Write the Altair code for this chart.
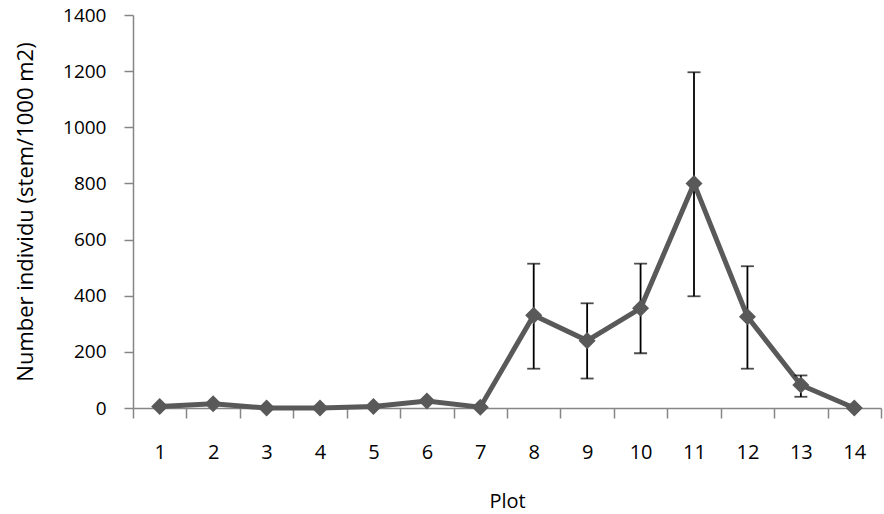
import altair as alt
import pandas as pd

plots = list(range(1, 15))
means = [5, 15, 0, 0, 5, 25, 3, 330, 240, 355, 800, 325, 82, 0]
err_low = [None, None, None, None, None, None, None, 140, 105, 195, 398, 140, 40, None]
err_high = [None, None, None, None, None, None, None, 514, 373, 514, 1196, 505, 116, None]

df = pd.DataFrame({"plot": plots, "mean": means, "lo": err_low, "hi": err_high})
eb = df.dropna()

W, H = 748, 393
band = W / len(plots)

x = alt.X(
    "plot:Q",
    scale=alt.Scale(domain=[0.5, len(plots) + 0.5], nice=False, zero=False),
    axis=alt.Axis(
        title="Plot",
        values=[i + 0.5 for i in range(0, len(plots) + 1)],
        labelExpr=f"datum.value < {len(plots)} ? toString(datum.value + 0.5) : ''",
        labelOffset=band / 2,
        labelOverlap=False,
        labelBound=False,
        labelFlush=False,
        labelBaseline="alphabetic",
        labelFontSize=20,
        grid=False,
        tickSize=10,
        labelPadding=40,
        titleFontSize=20,
        titleBaseline="alphabetic",
        titleX=W / 2,
        titleY=99,
        titleAlign="center",
    ),
)
y_scale = alt.Scale(domain=[0, 1400], nice=False)
y_axis = alt.Axis(
    title="Number individu (stem/1000 m2)",
    values=list(range(0, 1401, 200)),
    format="d",
    grid=False,
    tickSize=9,
    labelPadding=18,
    labelFontSize=19,
    titleFontSize=22,
    titleAngle=-90,
    titleBaseline="alphabetic",
    titleAlign="center",
    titleX=-101,
    titleY=H / 2,
)

line = alt.Chart(df).mark_line(color="#595959", strokeWidth=5).encode(
    x=x, y=alt.Y("mean:Q", scale=y_scale, axis=y_axis)
)
pts = alt.Chart(df).mark_point(
    shape="diamond", filled=True, size=290, color="#595959", opacity=1
).encode(x="plot:Q", y="mean:Q")

rule = alt.Chart(eb).mark_rule(color="#000000", strokeWidth=1.8).encode(
    x="plot:Q", y="lo:Q", y2="hi:Q"
)
cap_lo = alt.Chart(eb).mark_tick(
    color="#000000", orient="horizontal", size=13, thickness=1.8
).encode(x="plot:Q", y="lo:Q")
cap_hi = alt.Chart(eb).mark_tick(
    color="#000000", orient="horizontal", size=13, thickness=1.8
).encode(x="plot:Q", y="hi:Q")

chart = (
    alt.layer(line, rule, cap_lo, cap_hi, pts)
    .properties(
        width=W,
        height=H,
        autosize=alt.AutoSizeParams(type="none"),
        padding={"left": 133, "top": 15, "right": 3, "bottom": 106},
        background="white",
    )
    .configure_view(stroke=None)
    .configure_axis(
        domainColor="#868686",
        tickColor="#868686",
        domainWidth=1.5,
        tickWidth=1.5,
        labelFont="Open Sans",
        titleFont="Open Sans",
        labelColor="#000000",
        titleColor="#000000",
        titleFontWeight="normal",
    )
)

chart.save("out.html", embed_options={"renderer": "svg", "actions": False})
